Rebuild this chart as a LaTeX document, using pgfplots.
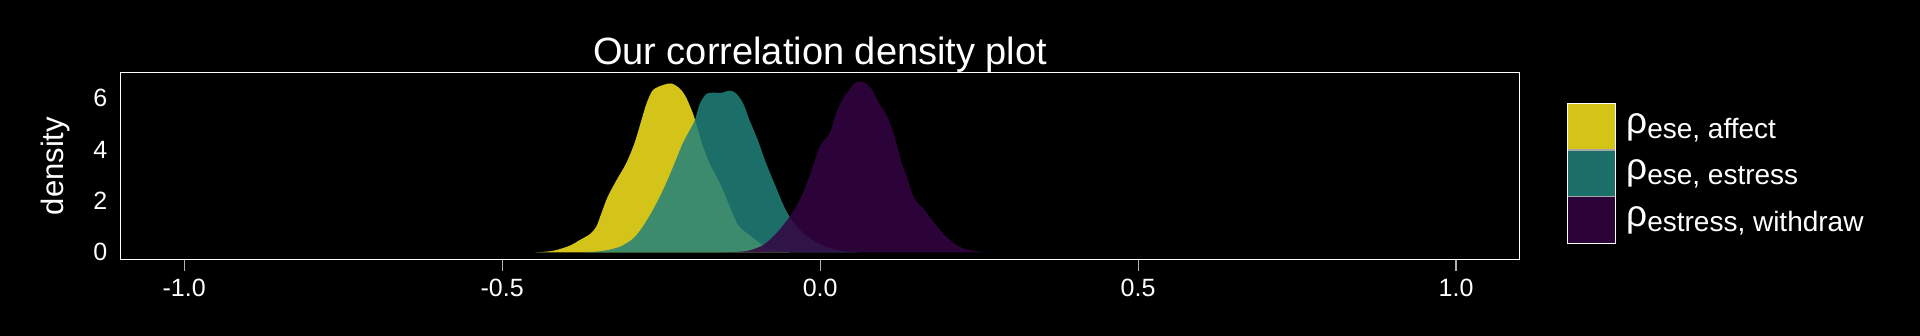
\documentclass[border=0pt]{standalone}
\usepackage{pgfplots}
\pgfplotsset{compat=1.18}
\usepackage{fontspec}
\setmainfont{Liberation Sans}
\definecolor{yelF}{RGB}{250,231,30}
\definecolor{tealF}{RGB}{34,130,123}
\definecolor{purF}{RGB}{52,4,66}
\definecolor{yelO}{RGB}{212,196,24}
\definecolor{tealO}{RGB}{29,111,105}
\definecolor{purO}{RGB}{44,3,56}

\pgfplotstableread{
x y
-0.449 0
-0.420 0.06
-0.394 0.26
-0.378 0.48
-0.362 0.71
-0.352 1.00
-0.344 1.52
-0.334 2.17
-0.320 2.82
-0.305 3.47
-0.292 4.25
-0.281 5.15
-0.273 5.80
-0.263 6.32
-0.247 6.52
-0.234 6.58
-0.221 6.39
-0.211 6.05
-0.200 5.41
-0.192 4.76
-0.184 4.11
-0.174 3.47
-0.163 2.95
-0.153 2.43
-0.142 1.78
-0.129 1.06
-0.111 0.67
-0.090 0.28
-0.070 0.08
-0.048 0
}\affect

\pgfplotstableread{
x y
-0.373 0
-0.341 0.06
-0.315 0.22
-0.294 0.54
-0.279 1.00
-0.263 1.65
-0.247 2.43
-0.231 3.34
-0.216 4.25
-0.205 4.76
-0.197 5.15
-0.189 5.80
-0.179 6.17
-0.169 6.22
-0.155 6.22
-0.142 6.30
-0.132 6.19
-0.121 5.80
-0.111 5.15
-0.098 4.37
-0.085 3.47
-0.072 2.69
-0.059 1.91
-0.048 1.39
-0.032 0.87
-0.012 0.48
0.015 0.16
0.041 0.03
0.062 0
}\estress

\pgfplotstableread{
x y
-0.153 0
-0.116 0.05
-0.090 0.28
-0.069 0.74
-0.048 1.39
-0.032 2.04
-0.017 2.95
0.000 4.15
0.015 4.63
0.025 5.41
0.036 6.00
0.044 6.26
0.054 6.58
0.067 6.65
0.080 6.39
0.093 5.80
0.106 5.28
0.117 4.50
0.127 3.60
0.138 2.82
0.148 2.10
0.164 1.65
0.180 1.13
0.198 0.61
0.219 0.22
0.240 0.06
0.261 0
}\withdraw

\begin{document}
\begin{tikzpicture}[x=1pt,y=1pt]
\fill[black] (0,0) rectangle (1920,336);
\begin{axis}[
  at={(120.6pt,76.7pt)}, anchor=south west,
  scale only axis, width=1399.1pt, height=186.6pt,
  xmin=-1.1, xmax=1.1, ymin=-0.27, ymax=7.0,
  axis line style={white, line width=1.4pt},
  xtick={-1,-0.5,0,0.5,1}, xticklabels={-1.0,-0.5,0.0,0.5,1.0},
  ytick={0,2,4,6}, yticklabels={0,2,4,6},
  xtick pos=bottom, ytick pos=left,
  xtick align=outside, major tick length=12pt,
  xtick style={color=white!70!black, line width=1.2pt},
  ytick style={draw=none},
  tick label style={white, font=\fontsize{25}{25}\selectfont},
  xticklabel style={yshift=-4pt},
  yticklabel style={anchor=east, inner sep=0pt, xshift=-13pt},
  ylabel={density},
  ylabel style={white, font=\fontsize{31}{31}\selectfont, at={(axis description cs:-0.0463,0.5)}, anchor=center},
  title={Our correlation density plot},
  title style={white, font=\fontsize{38}{38}\selectfont, at={(axis description cs:0.5,1)}, anchor=base, yshift=2.2pt, inner sep=0pt},
]
\addplot[fill=yelF, fill opacity=0.85, draw=none, smooth] table {\affect} \closedcycle;
\addplot[fill=tealF, fill opacity=0.85, draw=none, smooth] table {\estress} \closedcycle;
\addplot[fill=purF, fill opacity=0.85, draw=none, smooth] table {\withdraw} \closedcycle;
\end{axis}
% legend
\fill[yelO] (1567.7,186) rectangle (1615.7,232.7);
\fill[tealO] (1567.7,139.3) rectangle (1615.7,186);
\fill[purO] (1567.7,92.7) rectangle (1615.7,139.3);
\draw[white!65!black, line width=1.2pt] (1567.7,186) -- (1615.7,186) (1567.7,139.3) -- (1615.7,139.3);
\draw[white, line width=1.5pt] (1567.7,92.7) rectangle (1615.7,232.7);
\node[anchor=base west, inner sep=0pt, white] at (1626,202.7) {{\fontsize{37}{37}\selectfont ρ}\raisebox{-5pt}{\fontsize{28}{28}\selectfont ese, affect}};
\node[anchor=base west, inner sep=0pt, white] at (1626,156) {{\fontsize{37}{37}\selectfont ρ}\raisebox{-5pt}{\fontsize{28}{28}\selectfont ese, estress}};
\node[anchor=base west, inner sep=0pt, white] at (1626,109.3) {{\fontsize{37}{37}\selectfont ρ}\raisebox{-5pt}{\fontsize{28}{28}\selectfont estress, withdraw}};
\pgfresetboundingbox
\path[use as bounding box] (0,0) rectangle (1920,336);
\end{tikzpicture}
\end{document}
